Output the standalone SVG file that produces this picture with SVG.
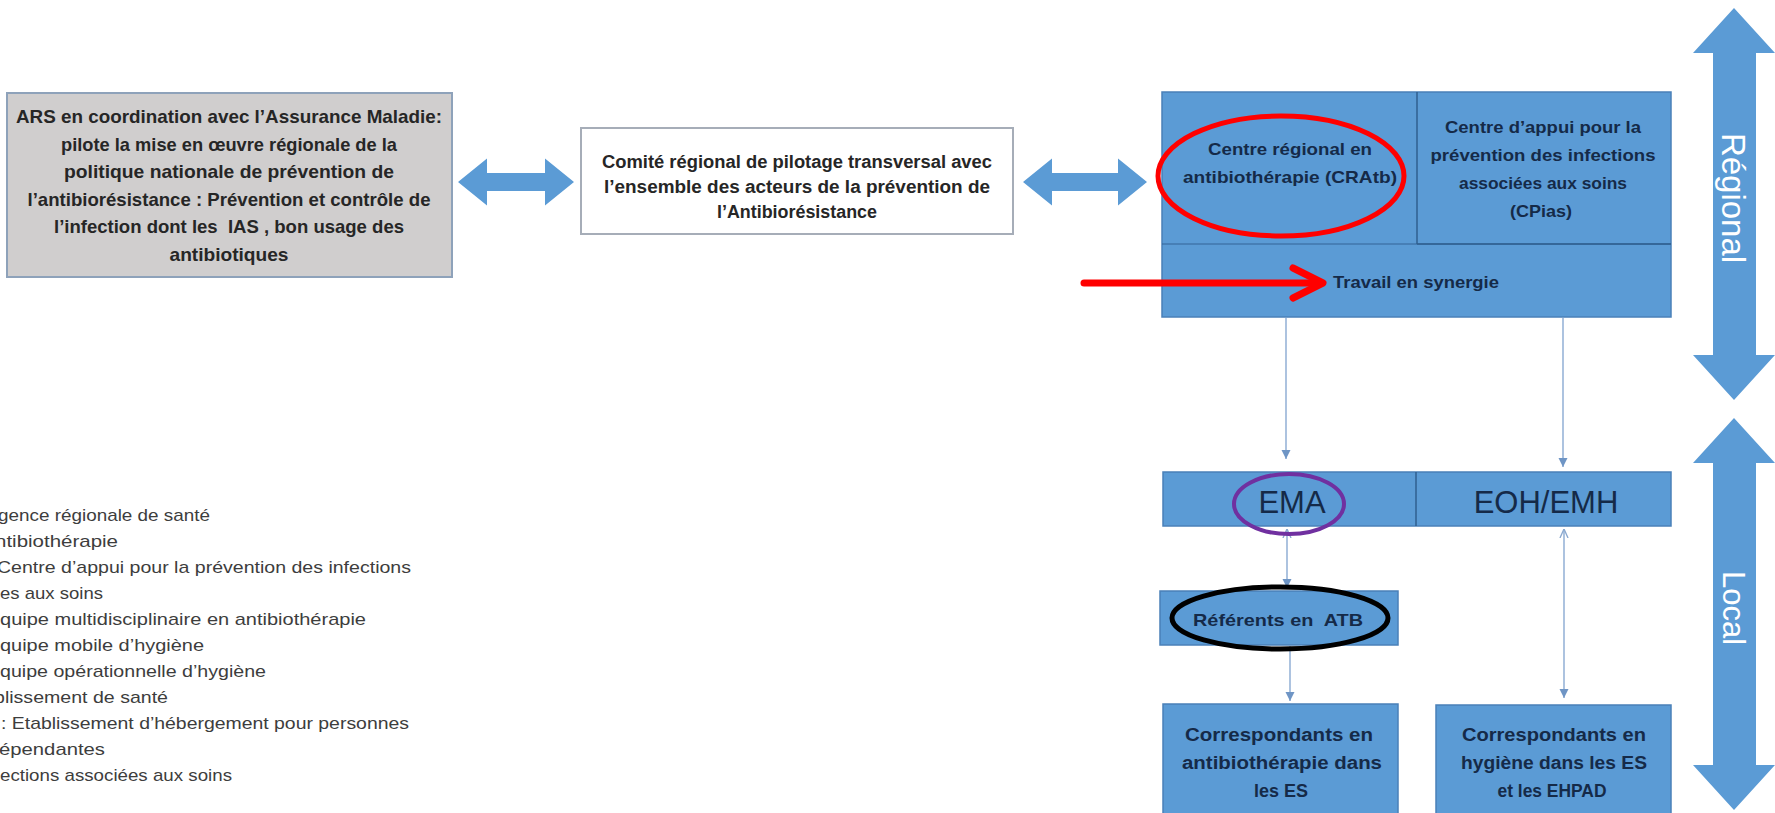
<svg xmlns="http://www.w3.org/2000/svg" width="1775" height="813" viewBox="0 0 1775 813">
<style>
.bg{fill:#ffffff}
.blue{fill:#5b9bd5;stroke:#4a80b8;stroke-width:1.5}
.div{stroke:#2f5f8f;stroke-width:1.5}
.bigarrow{fill:#5b9bd5}
.tb{font-family:"Liberation Sans",Arial,sans-serif;font-weight:bold;fill:#152a48;text-anchor:middle}
.tg{font-family:"Liberation Sans",Arial,sans-serif;font-weight:bold;fill:#262626;text-anchor:middle}
.tr{font-family:"Liberation Sans",Arial,sans-serif;fill:#152a48;text-anchor:middle}
.tw{font-family:"Liberation Sans",Arial,sans-serif;fill:#ffffff;text-anchor:middle}
.leg{font-family:"Liberation Sans",Arial,sans-serif;fill:#3d3d3d;font-size:17px}
.conn{stroke:#98b4d8;stroke-width:1.6;fill:none}
</style>
<defs>
<marker id="ah" viewBox="0 0 10 10" refX="10" refY="5" markerWidth="9" markerHeight="10" markerUnits="userSpaceOnUse" orient="auto-start-reverse">
<path d="M0,0 L10,5 L0,10 z" fill="#6f95c5"/>
</marker>
<marker id="ch" viewBox="0 0 10 10" refX="10" refY="5" markerWidth="9" markerHeight="10" markerUnits="userSpaceOnUse" orient="auto-start-reverse">
<path d="M0,0.5 L10,5 L0,9.5" fill="none" stroke="#8aa8cf" stroke-width="1.5"/>
</marker>
</defs>
<rect class="bg" x="0" y="0" width="1775" height="813"/>

<g id="ars">
<rect x="7" y="93" width="445" height="184" fill="#d0cece" stroke="#8ea2ba" stroke-width="2"/>
<text class="tg" font-size="19" x="229" y="123" textLength="426" lengthAdjust="spacingAndGlyphs">ARS en coordination avec l’Assurance Maladie:</text>
<text class="tg" font-size="19" x="229" y="150.5" textLength="336" lengthAdjust="spacingAndGlyphs">pilote la mise en œuvre régionale de la</text>
<text class="tg" font-size="19" x="229" y="178" textLength="330" lengthAdjust="spacingAndGlyphs">politique nationale de prévention de</text>
<text class="tg" font-size="19" x="229" y="205.5" textLength="403" lengthAdjust="spacingAndGlyphs">l’antibiorésistance : Prévention et contrôle de</text>
<text class="tg" font-size="19" x="229" y="233" textLength="350" lengthAdjust="spacingAndGlyphs">l’infection dont les&#160; IAS , bon usage des</text>
<text class="tg" font-size="19" x="229" y="260.5" textLength="119" lengthAdjust="spacingAndGlyphs">antibiotiques</text>
</g>

<g id="comite">
<rect x="581" y="128" width="432" height="106" fill="#ffffff" stroke="#a6adb8" stroke-width="2"/>
<text class="tg" font-size="18" x="797" y="168" textLength="390" lengthAdjust="spacingAndGlyphs">Comité régional de pilotage transversal avec</text>
<text class="tg" font-size="18" x="797" y="193" textLength="386" lengthAdjust="spacingAndGlyphs">l’ensemble des acteurs de la prévention de</text>
<text class="tg" font-size="18" x="797" y="218" textLength="160" lengthAdjust="spacingAndGlyphs">l’Antibiorésistance</text>
</g>

<g id="regional-block">
<rect class="blue" x="1162" y="92" width="509" height="225"/>
<line class="div" x1="1417" y1="92" x2="1417" y2="244"/>
<line class="div" x1="1162" y1="244" x2="1671" y2="244" stroke-opacity="0.6"/>
<line class="div" x1="1417" y1="244" x2="1671" y2="244"/>
</g>

<g id="cratb">
<text class="tb" font-size="17" x="1290" y="155" textLength="164" lengthAdjust="spacingAndGlyphs">Centre régional en</text>
<text class="tb" font-size="17" x="1290" y="183" textLength="214" lengthAdjust="spacingAndGlyphs">antibiothérapie (CRAtb)</text>
</g>

<g id="cpias">
<text class="tb" font-size="17" x="1543" y="133" textLength="196" lengthAdjust="spacingAndGlyphs">Centre d’appui pour la</text>
<text class="tb" font-size="17" x="1543" y="161" textLength="225" lengthAdjust="spacingAndGlyphs">prévention des infections</text>
<text class="tb" font-size="17" x="1543" y="189" textLength="168" lengthAdjust="spacingAndGlyphs">associées aux soins</text>
<text class="tb" font-size="17" x="1541" y="217" textLength="62" lengthAdjust="spacingAndGlyphs">(CPias)</text>
</g>

<g id="synergie">
<text class="tb" font-size="17" x="1416" y="288" textLength="166" lengthAdjust="spacingAndGlyphs">Travail en synergie</text>
</g>

<g id="ema-row">
<rect class="blue" x="1163" y="472" width="508" height="54"/>
<line class="div" x1="1416" y1="472" x2="1416" y2="526"/>
</g>
<g id="ema">
<text class="tr" font-size="31" x="1292" y="513">EMA</text>
</g>
<g id="eoh">
<text class="tr" font-size="31" x="1546" y="513">EOH/EMH</text>
</g>

<g id="referents">
<rect class="blue" x="1160" y="591" width="238" height="54"/>
<text class="tb" font-size="17" x="1278" y="626" textLength="170" lengthAdjust="spacingAndGlyphs">Référents en&#160; ATB</text>
</g>

<g id="corr-atb">
<rect class="blue" x="1163" y="704" width="235" height="125"/>
<text class="tb" font-size="18" x="1279" y="741" textLength="188" lengthAdjust="spacingAndGlyphs">Correspondants en</text>
<text class="tb" font-size="18" x="1282" y="769" textLength="200" lengthAdjust="spacingAndGlyphs">antibiothérapie dans</text>
<text class="tb" font-size="18" x="1281" y="797" textLength="54" lengthAdjust="spacingAndGlyphs">les ES</text>
</g>

<g id="corr-hyg">
<rect class="blue" x="1436" y="705" width="235" height="124"/>
<text class="tb" font-size="18" x="1554" y="741" textLength="184" lengthAdjust="spacingAndGlyphs">Correspondants en</text>
<text class="tb" font-size="18" x="1554" y="769" textLength="186" lengthAdjust="spacingAndGlyphs">hygiène dans les ES</text>
<text class="tb" font-size="18" x="1552" y="797" textLength="109" lengthAdjust="spacingAndGlyphs">et les EHPAD</text>
</g>

<g id="connectors">
<polygon class="bigarrow" points="458,182 487,158.5 487,173 545,173 545,158.5 574,182 545,205.5 545,191 487,191 487,205.5"/>
<polygon class="bigarrow" points="1023,182 1052,158.5 1052,173 1118,173 1118,158.5 1147,182 1118,205.5 1118,191 1052,191 1052,205.5"/>
<line class="conn" x1="1286" y1="318" x2="1286" y2="459" marker-end="url(#ah)"/>
<line class="conn" x1="1563" y1="318" x2="1563" y2="467" marker-end="url(#ah)"/>
<line class="conn" x1="1287" y1="529" x2="1287" y2="588" marker-start="url(#ch)" marker-end="url(#ah)"/>
<line class="conn" x1="1290" y1="646" x2="1290" y2="701" marker-end="url(#ah)"/>
<line class="conn" x1="1564" y1="529" x2="1564" y2="698" marker-start="url(#ch)" marker-end="url(#ah)"/>
</g>

<g id="regional-arrow">
<polygon class="bigarrow" points="1734,8 1775,53 1756,53 1756,355 1775,355 1734,400 1693,355 1713,355 1713,53 1693,53"/>
<text class="tw" font-size="33" transform="translate(1722,198) rotate(90)" x="0" y="0">Régional</text>
</g>

<g id="local-arrow">
<polygon class="bigarrow" points="1734,418 1775,463 1756,463 1756,765 1775,765 1734,810 1693,765 1713,765 1713,463 1693,463"/>
<text class="tw" font-size="31" transform="translate(1723,608) rotate(90)" x="0" y="0">Local</text>
</g>

<g id="annotations">
<ellipse cx="1281" cy="176" rx="123" ry="60" fill="none" stroke="#ff0000" stroke-width="5"/>
<line x1="1084" y1="283" x2="1320" y2="283" stroke="#ff0000" stroke-width="7" stroke-linecap="round"/>
<polyline points="1293,268 1323,283 1293,298" fill="none" stroke="#ff0000" stroke-width="7" stroke-linecap="round" stroke-linejoin="round"/>
<ellipse cx="1289" cy="504" rx="55" ry="30" fill="none" stroke="#7030a0" stroke-width="4"/>
<ellipse cx="1280" cy="618" rx="108" ry="31" fill="none" stroke="#000000" stroke-width="5"/>
</g>

<g id="legend">
<text class="leg" x="-2" y="521" textLength="212" lengthAdjust="spacingAndGlyphs">gence régionale de santé</text>
<text class="leg" x="-5" y="547" textLength="123" lengthAdjust="spacingAndGlyphs">ntibiothérapie</text>
<text class="leg" x="-3" y="573" textLength="414" lengthAdjust="spacingAndGlyphs">Centre d’appui pour la prévention des infections</text>
<text class="leg" x="0" y="599" textLength="103" lengthAdjust="spacingAndGlyphs">es aux soins</text>
<text class="leg" x="0" y="625" textLength="366" lengthAdjust="spacingAndGlyphs">quipe multidisciplinaire en antibiothérapie</text>
<text class="leg" x="0" y="651" textLength="204" lengthAdjust="spacingAndGlyphs">quipe mobile d’hygiène</text>
<text class="leg" x="0" y="677" textLength="266" lengthAdjust="spacingAndGlyphs">quipe opérationnelle d’hygiène</text>
<text class="leg" x="-6" y="703" textLength="174" lengthAdjust="spacingAndGlyphs">blissement de santé</text>
<text class="leg" x="1" y="729" textLength="408" lengthAdjust="spacingAndGlyphs">: Etablissement d’hébergement pour personnes</text>
<text class="leg" x="-1" y="755" textLength="106" lengthAdjust="spacingAndGlyphs">épendantes</text>
<text class="leg" x="0" y="781" textLength="232" lengthAdjust="spacingAndGlyphs">ections associées aux soins</text>
</g>
</svg>
